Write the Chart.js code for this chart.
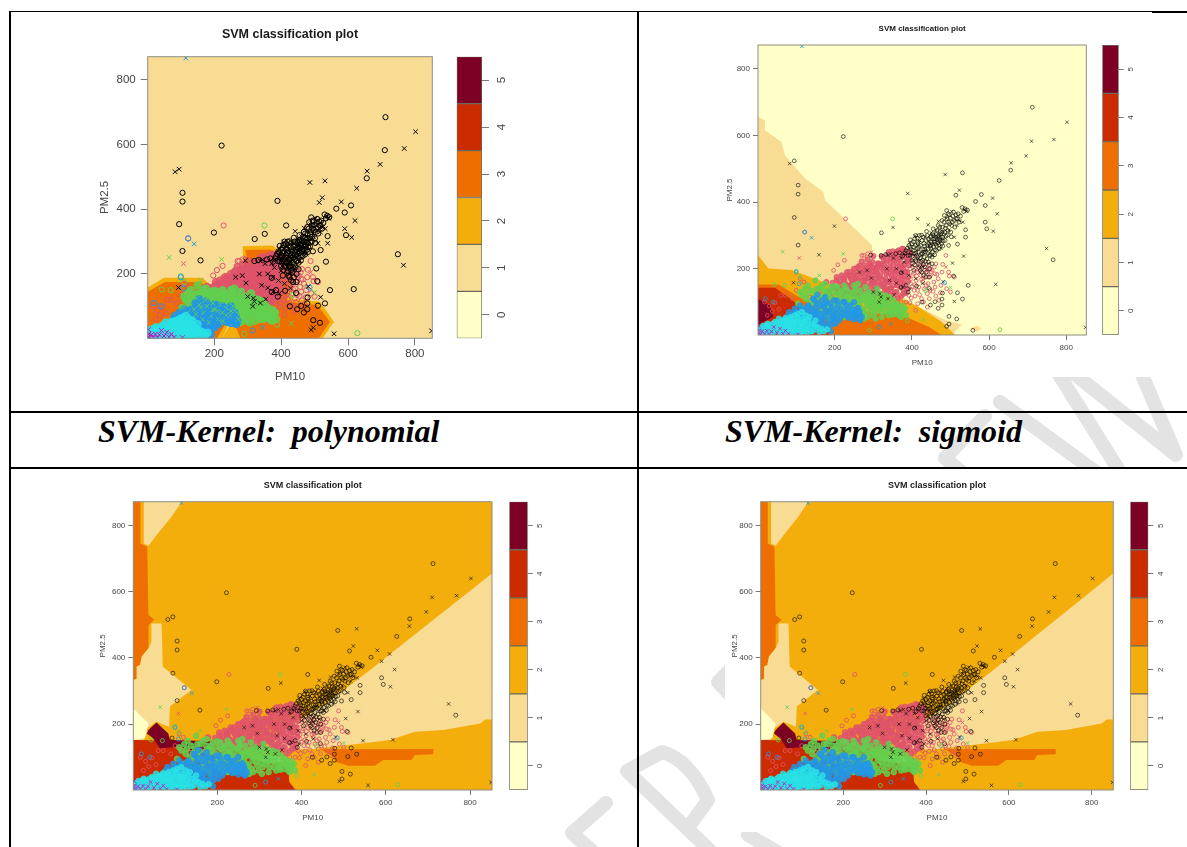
<!DOCTYPE html>
<html><head><meta charset="utf-8">
<script src="https://cdn.jsdelivr.net/npm/chart.js@4"></script>
<style>
html,body{margin:0;padding:0;background:#fff;overflow:hidden}
#page{position:relative;width:1187px;height:847px;overflow:hidden;background:#fff}
canvas{position:absolute;display:block}
.rule{position:absolute;background:#000}
.cap{position:absolute;font:italic bold 32px "Liberation Serif",serif;white-space:pre;color:#000;line-height:36px}
svg{position:absolute;left:0;top:0}
</style></head><body><div id="page">
<svg width="1187" height="847" fill="none" stroke="#e3e3e3" stroke-width="14" stroke-linejoin="round" stroke-linecap="round">
<defs>
<clipPath id="rowclip"><rect x="900" y="377" width="287" height="90"/></clipPath>
<clipPath id="lowclip"><rect x="540" y="660" width="185" height="187"/><rect x="725" y="832" width="200" height="15"/></clipPath>
</defs>
<g clip-path="url(#rowclip)">
<path d="M1000 402L1100 475"/><path d="M985 416L945 458L965 475"/>
<path d="M1056 370L1122 475M1072 372L1176 455L1140 370"/>
</g>
<g clip-path="url(#lowclip)">
<path d="M606 803L572 833L600 858"/><path d="M627 771L662 752Q690 760 708 800L690 825M627 771L720 860"/>
<path d="M730 670L718 682L730 695"/><path d="M748 835L800 865"/>
</g>
</svg>
<div class="rule" style="left:10px;top:11px;width:1142px;height:1px"></div>
<div class="rule" style="left:1152px;top:11px;width:35px;height:2px"></div>
<div class="rule" style="left:9px;top:11px;width:2px;height:836px"></div>
<div class="rule" style="left:637px;top:11px;width:2px;height:836px"></div>
<div class="rule" style="left:10px;top:411px;width:1177px;height:2px"></div>
<div class="rule" style="left:10px;top:467px;width:1177px;height:2px"></div>
<div class="cap" style="left:98px;top:413px">SVM-Kernel:  polynomial</div>
<div class="cap" style="left:725px;top:413px">SVM-Kernel:  sigmoid</div>
</div>
<script>
// ---------- labels ----------
const chartTitle = "SVM classification plot";
const xAxisName = "PM10";
const yAxisName = "PM2.5";
const axisTicks = [200, 400, 600, 800];
const levelTicks = [0, 1, 2, 3, 4, 5];
const levelColors = ["#FFFFC8", "#F9DC94", "#F4AE0C", "#EF6E00", "#CC2B00", "#7D0025"];
const xRange = [1, 852];
const yRange = [1, 872];

// ---------- decision regions: [PM10, PM2.5] ----------
const polyL3left = [[1,145],[53,175],[158,175],[193,145],[228,109],[248,78],[228,36],[208,1],[1,1]];
const polyL2left = [[1,158],[50,188],[165,188],[205,150],[240,112],[260,78],[240,36],[222,1],[1,1]];
const polyL3mid = [[293,274],[368,276],[428,222],[418,114],[508,104],[546,52],[513,1],[278,1],[258,52],[248,109],[298,248]];
const polyL2mid = [[285,286],[376,288],[440,225],[430,124],[516,114],[558,52],[524,1],[222,1],[246,40],[236,109],[286,248]];

const sigL1 = [[1,656],[19,646],[19,616],[62,581],[71,541],[123,471],[170,431],[175,406],[296,271],[300,201],[391,101],[486,46],[529,33],[505,1],[1,1]];
const sigL1blob = [[551,21],[568,29],[581,21],[568,11]];
const sigL2 = [[1,241],[28,201],[88,196],[157,166],[252,131],[373,111],[417,86],[477,41],[512,1],[1,1]];
const sigL3 = [[1,153],[54,153],[114,111],[192,81],[270,71],[373,61],[443,26],[477,1],[1,1]];
const sigL4 = [[1,143],[45,143],[84,111],[140,61],[183,21],[188,1],[1,1]];
const sigL5 = [[1,109],[32,91],[41,56],[1,31]];

const rbfL3strip = [[1,872],[18,872],[18,746],[34,736],[37,530],[51,515],[37,499],[37,429],[21,404],[17,379],[9,374],[9,338],[1,333]];
const rbfL1top = [[26,872],[116,872],[92,827],[56,771],[37,739],[26,746]];
const rbfL1left = [[1,333],[9,336],[9,374],[17,379],[21,404],[37,429],[44,449],[44,504],[68,504],[71,374],[139,303],[88,253],[86,192],[56,207],[33,187],[25,152],[1,152]];
const rbfL0left = [[1,248],[37,202],[29,157],[1,152]];
const rbfL5 = [[37,182],[56,205],[84,172],[88,152],[195,147],[195,137],[151,117],[112,132],[64,127],[48,157],[33,172]];
const rbfL4 = [[1,152],[195,150],[233,130],[298,87],[345,79],[369,64],[371,26],[386,1],[1,1]];
const rbfL1right = [[852,655],[555,356],[452,258],[365,187],[310,117],[365,122],[428,125],[547,142],[610,152],[669,177],[737,182],[824,202],[836,214],[852,214]];
const rbfL0small = [[310,107],[365,97],[357,87],[310,85]];
const rbfL3wedge = [[444,124],[713,125],[713,109],[669,107],[661,92],[594,92],[574,74],[511,74],[480,87],[476,102]];

// ---------- points: [PM10, PM2.5] ----------
const blackSparse = [[83,516],[95,524],[105,451],[105,424],[95,354],[199,328],[222,597],[389,426],[415,350],[351,324],[321,308],[159,242],[105,271],[93,158],[293,241],[486,483],[531,488],[523,436],[514,421],[580,423],[565,402],[609,412],[590,390],[621,365],[626,465],[656,496],[657,518],[696,539],[710,583],[712,685],[768,588],[802,640],[749,261],[766,227],[617,153],[611,313],[594,320],[590,340],[539,317],[539,295],[534,238],[518,274],[505,217],[508,178],[546,150],[531,109],[518,128],[510,102],[516,49],[496,57],[496,34],[490,27],[558,15],[850,24]];
const sparseMarksPoly = "xxoooooooooooxxxxxxxoooxxoxxooxxoxoxoxoxooooooxoooxxxx";
const sparseMarksSigm = "xooooxoxxxoxoxoxoxoooxoxooxxxoxxxoxxooooxoxooooxoooooxx";
const sparseMarksRbf  = "oooooooooxooooooxxoxoxxxoxoxxoxxxoxxooooxoxoxooooooxxxo";
const blackCloudRings = [[392,270],[398,258],[404,281],[410,246],[414,292],[418,265],[402,238],[421,232],[425,301],[428,258],[431,276],[396,287],[435,222],[438,312],[441,246],[443,289],[447,268],[450,298],[452,235],[455,320],[458,281],[460,257],[463,303],[466,288],[468,330],[470,272],[473,312],[476,296],[478,345],[481,283],[484,360],[487,322],[490,375],[492,301],[495,340],[497,362],[500,352],[503,330],[506,358],[510,345],[514,362],[518,350],[522,340],[526,358],[530,384],[534,372],[538,380],[544,376],[412,222],[418,204],[425,190],[430,212],[436,175],[407,212],[446,200],[424,245],[433,258],[416,275],[405,265],[399,248],[410,300],[440,270],[448,282],[456,300],[464,270],[472,290],[480,268],[488,298],[495,270],[502,296],[400,225],[390,240],[385,255],[332,243],[358,245],[320,240],[385,150],[412,148],[372,144],[372,188],[405,195],[430,180],[390,130],[445,141],[446,175],[479,127],[426,100],[448,91],[468,81],[460,101],[478,109],[478,91]];
const blackCloudRingsMore = [[395,265],[400,275],[403,255],[407,290],[409,270],[412,240],[415,280],[417,250],[419,300],[422,270],[424,222],[426,285],[427,245],[429,295],[432,235],[433,268],[435,250],[437,285],[439,230],[440,300],[442,260],[444,275],[445,240],[448,295],[449,262],[451,280],[453,250],[454,305],[456,265],[457,290],[459,242],[461,275],[462,295],[464,255],[465,315],[467,278],[469,300],[471,260],[472,325],[474,285],[475,305],[477,275],[479,325],[480,295],[483,340],[485,310],[486,285],[489,330],[491,350],[493,315],[494,365],[498,335],[501,310],[505,340],[508,370],[511,325],[515,350],[520,365],[410,225],[415,235],[420,210],[405,245],[422,195],[428,225],[434,205],[438,190],[443,220],[448,240],[452,215],[395,240],[388,262],[382,248],[376,238],[368,248],[415,260],[430,250],[448,270],[460,290],[470,285],[478,310]];
const blackCloudCrosses = [[380,244],[394,278],[403,225],[412,255],[420,285],[426,240],[434,296],[442,215],[449,252],[456,275],[462,315],[469,342],[475,262],[482,310],[489,352],[496,316],[503,372],[510,295],[517,330],[524,344],[532,340],[537,378],[542,372],[470,300],[455,240],[437,255],[417,230],[428,206],[408,298],[442,332],[450,308],[345,244],[338,240],[352,232],[372,232],[380,220],[335,200],[360,200],[375,190],[392,180],[410,170],[428,156],[342,165],[360,157],[376,145],[395,140],[354,122],[338,110],[317,125],[315,100],[320,115],[300,130],[284,195],[264,190],[295,172],[400,210],[481,161]];
const pinkCore = [[190,115],[225,112],[262,118],[300,120],[340,125],[372,118],[185,130],[205,128],[235,132],[250,126],[280,134],[310,128],[330,136],[355,130],[385,128],[200,145],[218,140],[240,148],[258,142],[272,150],[290,144],[305,138],[322,148],[345,142],[362,150],[378,138],[178,160],[195,158],[212,162],[228,154],[245,160],[262,156],[278,164],[295,158],[312,162],[328,154],[342,160],[358,166],[374,156],[390,162],[205,175],[222,172],[238,178],[254,170],[268,176],[284,172],[300,180],[316,174],[332,170],[348,178],[364,172],[380,176],[232,190],[250,186],[264,192],[280,184],[296,190],[310,186],[326,194],[340,186],[356,192],[372,184],[388,190],[260,205],[276,200],[290,208],[305,202],[320,210],[334,204],[348,198],[362,206],[378,202],[392,210],[270,222],[298,220],[312,216],[328,224],[344,218],[358,226],[372,214],[388,222],[300,238],[322,236],[338,242],[352,234],[366,240],[380,236],[394,244],[285,228],[350,252],[365,255],[378,258],[392,250],[215,150],[225,165],[235,150],[242,170],[248,155],[255,180],[258,165],[265,150],[270,185],[273,165],[280,195],[282,150],[287,178],[290,195],[295,165],[298,205],[302,148],[306,170],[308,192],[314,150],[315,215],[318,180],[322,200],[325,165],[328,215],[330,145],[334,185],[336,225],[338,160],[341,200],[344,140],[346,230],[349,170],[351,210],[353,150],[355,238],[357,185],[360,130],[361,218],[363,160],[366,195],[368,230],[370,145],[373,205],[375,170],[377,245],[380,155],[381,215],[383,190],[386,235],[388,140],[390,175],[393,225],[300,160],[310,205],[325,235],[360,250],[375,260],[340,250],[290,215],[278,210],[265,210],[250,200],[240,190],[230,180],[218,180],[205,165],[195,145],[210,135],[225,125],[245,135],[268,135],[292,130],[335,128],[348,120],[363,112],[378,125]];
const pinkLoose = [[398,112],[420,122],[415,135],[440,125],[400,146],[432,140],[455,132],[408,152],[425,168],[442,155],[396,168],[412,178],[430,172],[448,180],[404,186],[420,194],[436,188],[452,196],[465,183],[408,200],[422,208],[440,202],[458,205],[402,216],[418,224],[430,218],[445,212],[408,238],[275,240],[197,195],[208,212],[225,225],[228,350],[255,200],[270,240],[285,245],[122,310],[488,240],[480,213],[497,178],[495,190],[490,140],[500,130],[474,128],[470,105],[440,85],[410,75],[385,100],[445,200],[460,145],[510,175],[18,100],[30,88],[45,98],[55,78],[38,72],[25,60],[72,120],[90,110],[110,170],[120,160],[60,120],[100,135],[135,115],[150,110],[160,130],[395,200],[397,155],[402,180],[406,135],[409,210],[411,165],[415,190],[418,145],[423,180],[426,205],[428,160],[434,195],[437,150],[443,175],[447,135],[450,190],[457,160],[460,185],[392,120],[408,118],[425,110],[352,105],[372,100],[395,98],[415,95],[430,100],[445,110],[462,118],[475,150],[468,170],[478,190],[462,215]];
const pinkCrosses = [[108,232],[225,108],[300,150],[345,190],[330,170],[295,250],[488,205]];
const greenMarks = [[110,130],[125,110],[130,150],[140,90],[148,125],[155,105],[160,140],[168,80],[172,118],[178,100],[185,135],[190,70],[196,110],[200,90],[208,125],[212,60],[218,105],[224,80],[230,140],[235,95],[240,115],[246,70],[252,130],[256,100],[262,85],[268,120],[272,60],[278,105],[284,90],[290,130],[295,75],[300,110],[306,50],[312,95],[318,125],[324,70],[330,100],[336,85],[342,115],[350,62],[356,92],[362,78],[370,70],[375,88],[150,165],[175,155],[200,148],[225,150],[250,150],[165,60],[185,50],[225,55],[285,55],[135,65],[120,80],[105,95],[260,155],[280,145],[310,140],[215,130],[195,88],[235,72],[275,75],[255,115],[295,100],[320,88],[340,60],[145,75],[160,95],[180,125],[210,85],[230,115],[250,85],[270,105],[288,115],[305,82],[328,112],[348,78],[368,60]];
const greenMarksMore = [[115,120],[122,140],[128,125],[135,100],[138,135],[143,112],[150,95],[153,140],[158,118],[162,70],[166,150],[170,95],[174,135],[177,62],[180,110],[183,85],[187,120],[190,145],[193,78],[198,130],[202,105],[204,70],[207,145],[211,95],[214,115],[216,72],[220,135],[222,92],[226,120],[228,60],[232,105],[237,130],[238,85],[242,55],[244,100],[248,125],[250,60],[254,140],[258,75],[260,110],[264,95],[266,135],[270,80],[274,115],[276,50],[280,125],[282,65],[286,100],[292,85],[294,120],[298,60],[302,95],[304,125],[308,70],[310,110],[316,80],[320,105],[322,55],[326,90],[332,120],[334,70],[338,100],[344,90],[346,70],[352,105],[358,65],[360,95],[364,85],[372,55],[376,72],[382,80],[385,60]];
const greenSparseRings = [[350,350],[100,193],[628,17],[290,15],[388,43],[435,135],[70,150],[110,175],[43,152]];
const greenSparseCrosses = [[222,245],[65,251],[160,180],[430,47],[500,143]];
const blueMarks = [[60,40],[78,25],[92,50],[98,15],[105,70],[112,35],[124,55],[130,20],[136,80],[142,45],[148,105],[152,62],[158,28],[164,88],[170,50],[176,72],[182,35],[188,95],[194,58],[206,78],[212,45],[218,65],[230,90],[236,52],[242,72],[254,60],[260,82],[266,45],[155,122],[175,115],[205,105],[225,100],[250,100],[110,15],[140,12],[170,18],[190,12],[100,55],[120,75],[145,30],[165,65],[185,75],[205,50],[228,72],[245,55],[135,60],[155,42],[90,30],[80,50],[150,85],[195,40],[175,30],[125,40],[110,90],[265,62]];
const blueMarksMore = [[65,30],[72,45],[75,15],[82,70],[85,35],[88,62],[95,25],[96,80],[102,40],[108,60],[110,28],[114,80],[116,48],[120,18],[126,68],[128,35],[132,90],[134,52],[138,25],[140,70],[144,110],[146,55],[150,38],[154,95],[156,72],[160,18],[162,50],[166,105],[168,30],[172,85],[174,60],[178,20],[180,100],[184,48],[186,68],[190,30],[192,85],[196,52],[198,105],[202,35],[204,65],[208,92],[214,55],[216,80],[222,100],[226,60],[234,78],[240,90],[246,65],[250,48],[252,78],[258,60],[262,50],[264,72],[270,55],[158,55],[148,70],[138,40],[128,85],[118,60],[108,45],[98,70],[88,45],[78,60],[70,35],[165,40],[175,95],[195,70],[235,62],[255,75]];
const blueSparseRings = [[122,310],[485,158],[315,25],[40,100],[20,110],[100,190],[108,155]];
const blueSparseCrosses = [[140,293],[115,868],[345,35]];
const cyanMarks = [[5,8],[8,22],[12,5],[18,15],[22,30],[25,8],[32,20],[36,6],[40,35],[44,14],[52,25],[56,8],[60,42],[64,18],[68,30],[72,6],[76,48],[80,20],[84,35],[88,10],[92,28],[96,60],[100,15],[104,42],[108,22],[112,8],[118,35],[125,18],[130,45],[138,12],[148,28],[160,10],[55,50],[70,12],[85,55],[45,40],[95,40],[125,60]];
const cyanMarksMore = [[4,15],[10,10],[13,28],[16,6],[23,20],[26,35],[30,12],[37,25],[41,8],[46,30],[50,38],[54,15],[58,32],[62,6],[66,45],[70,25],[74,38],[78,10],[82,50],[86,25],[90,42],[94,15],[98,32],[102,55],[106,10],[110,38],[114,25],[116,50],[120,12],[122,42],[127,30],[132,22],[135,55],[140,35],[145,15],[150,45],[155,25],[165,20],[172,12],[180,18],[30,30],[66,15],[78,35],[92,5],[108,5],[128,8],[72,52],[105,65],[115,70]];
const magentaMarks = [[2,5],[5,15],[8,3],[12,12],[18,4],[24,14],[30,3],[36,12],[42,25],[50,8],[58,20],[65,5],[72,14],[3,28],[80,4],[105,3]];

// ---------- drawing ----------
const PINK="#DF536B",GREEN="#61D04F",BLUE="#2297E6",CYAN="#28E2E5",MAGENTA="#CD0BBC";
const toXY = a => a.map(p => ({x:p[0], y:p[1]}));
const page = document.getElementById("page");
const frame = {id:"frame", afterDraw(c){const a=c.chartArea,g=c.ctx;g.save();g.strokeStyle="#8d8d80";g.lineWidth=1;g.strokeRect(a.left,a.top,a.right-a.left,a.bottom-a.top);g.restore();}};
const noPad = s => {s.paddingLeft=0;s.paddingRight=0;s.paddingTop=0;s.paddingBottom=0;};

function region(points, level){
  return {data:toXY(points), showLine:true, fill:"shape", borderWidth:0, pointRadius:0, backgroundColor:levelColors[level], borderColor:levelColors[level]};
}
const fullPlot = [[xRange[0],yRange[0]],[xRange[1],yRange[0]],[xRange[1],yRange[1]],[xRange[0],yRange[1]]];

function marks(points, color, style, r, lw){
  return {data:toXY(points), showLine:false, pointStyle:style, pointRadius:style==="crossRot"?r*1.25:r, pointBorderWidth:lw, pointBorderColor:color, borderColor:color, pointBackgroundColor:"transparent", backgroundColor:"transparent"};
}
function sparseMarks(r,lw,string,color){
  return {data:toXY(blackSparse), showLine:false, pointRadius:(c)=>string[c.dataIndex]==="x"?r*1.25:r, pointStyle:(c)=>string[c.dataIndex]==="x"?"crossRot":"circle", pointBorderWidth:lw, pointBorderColor:color, pointBackgroundColor:"transparent"};
}

function buildPanel(p){
  const L=Math.round(p.ylabX-p.tick/2), T=Math.round(p.titleY-p.titleSize/2), R=Math.ceil(p.r)+2, B=Math.round(p.xlabY+p.tick/2);
  const c=document.createElement("canvas");
  c.width=R-L;c.height=B-T;c.style.cssText=`left:${L}px;top:${T}px;width:${R-L}px;height:${B-T}px;filter:blur(${p.blur}px)`;
  page.appendChild(c);
  const r=p.r0, lw=p.lw, alt=p.alt, ink=p.ink;
  const ds=[];
  p.regions.forEach(q=>ds.push(region(q[0],q[1])));
  const cloud=(arr,col)=>{const d=marks(arr,col,"circle",r*1.4,lw); d.pointBackgroundColor=col+"d0"; return d;};
  ds.push(cloud(pinkCore,PINK),marks(pinkLoose,PINK,"circle",r,lw),marks(pinkCrosses,PINK,"crossRot",r,lw));
  ds.push(cloud(greenMarks.concat(greenMarksMore),GREEN),marks(greenSparseRings,GREEN,"circle",r,lw),marks(greenSparseCrosses,GREEN,"crossRot",r,lw));
  ds.push(cloud(blueMarks.concat(blueMarksMore),BLUE),marks(blueSparseRings,BLUE,"circle",r,lw),marks(blueSparseCrosses,BLUE,"crossRot",r,lw));
  if(alt){ds.push(marks(greenMarks,GREEN,"crossRot",r,lw),marks(blueMarks,BLUE,"crossRot",r,lw));}
  ds.push(cloud(cyanMarks.concat(cyanMarksMore),CYAN),marks(magentaMarks,MAGENTA,"crossRot",r,lw));
  ds.push(marks(blackCloudRings.concat(blackCloudRingsMore),ink,"circle",r,lw),marks(blackCloudCrosses,ink,"crossRot",r,lw),sparseMarks(r,lw,p.sparse,ink));
  ds.forEach((d,i)=>{d.order=ds.length-i;});
  const setTicks=(s)=>{s.ticks=axisTicks.map(v=>({value:v}));};
  const tickFont={family:"Liberation Sans",size:p.tick};
  new Chart(c,{type:"scatter",data:{datasets:ds},plugins:[frame],options:{
    responsive:false,animation:false,events:[],devicePixelRatio:1,
    layout:{autoPadding:false,padding:{left:0,right:R-p.r,top:0,bottom:0}},
    plugins:{legend:{display:false},tooltip:{enabled:false},
      title:{display:true,fullSize:false,text:chartTitle,color:"#1a1a1a",font:{family:"Liberation Sans",size:p.titleSize,weight:"bold",lineHeight:1},padding:{top:0,bottom:p.t-T-p.titleSize}}},
    scales:{
      x:{type:"linear",min:xRange[0],max:xRange[1],afterBuildTicks:setTicks,
        afterFit(s){s.height=B-p.b;noPad(s);},
        grid:{drawOnChartArea:false,drawTicks:true,tickLength:p.tl,color:"#777"},border:{display:false},
        ticks:{autoSkip:false,maxRotation:0,font:tickFont,color:"#444",padding:p.xpad},
        title:{display:true,text:xAxisName,color:"#444",font:{family:"Liberation Sans",size:p.tick,lineHeight:1},padding:0}},
      y:{type:"linear",min:yRange[0],max:yRange[1],afterBuildTicks:setTicks,
        afterFit(s){s.width=p.l-L;noPad(s);},
        grid:{drawOnChartArea:false,drawTicks:true,tickLength:p.tl,color:"#777"},border:{display:false},
        ticks:{autoSkip:false,font:tickFont,color:"#444",padding:p.ypad},
        title:{display:true,text:yAxisName,color:"#444",font:{family:"Liberation Sans",size:p.tick,lineHeight:1},padding:0}}
    }}});
  // colour bar
  const bL=Math.floor(p.barL), bT=Math.floor(p.t)-1, bR=Math.round(p.barLabX+10), bH=Math.ceil(p.b-p.t)+3;
  const k=document.createElement("canvas");
  k.width=bR-bL;k.height=bH;k.style.cssText=`left:${bL}px;top:${bT}px;width:${bR-bL}px;height:${bH}px;filter:blur(${p.blur}px)`;
  page.appendChild(k);
  const bars=levelTicks.map(v=>({label:String(v),data:[[v-0.5,v+0.5]],backgroundColor:levelColors[v],borderColor:"#6b6b5c",borderWidth:1,borderSkipped:false,barPercentage:1,categoryPercentage:1,grouped:false}));
  new Chart(k,{type:"bar",data:{labels:[""],datasets:bars},options:{
    responsive:false,animation:false,events:[],devicePixelRatio:1,
    layout:{autoPadding:false,padding:{left:p.barL-bL,right:0,top:p.t-bT,bottom:bT+bH-p.b}},
    plugins:{legend:{display:false},tooltip:{enabled:false},title:{display:false}},
    scales:{
      x:{display:false,grid:{display:false},offset:true},
      y:{position:"right",min:-0.5,max:5.5,
        afterBuildTicks(s){s.ticks=levelTicks.map(v=>({value:v}));},
        afterFit(s){s.width=bR-p.barR;noPad(s);},
        grid:{drawOnChartArea:false,drawTicks:true,tickLength:p.tl,color:"#777"},border:{display:false},
        ticks:{autoSkip:false,minRotation:90,maxRotation:90,crossAlign:"center",font:tickFont,color:"#444",padding:p.barPad}}
    }}});
}

const polyRegions=[[fullPlot,1],[polyL2left,2],[polyL2mid,2],[polyL3left,3],[polyL3mid,3]];
const sigmRegions=[[fullPlot,0],[sigL1,1],[sigL1blob,1],[sigL2,2],[sigL3,3],[sigL4,4],[sigL5,5]];
const rbfRegions=[[fullPlot,2],[rbfL3strip,3],[rbfL1top,1],[rbfL1left,1],[rbfL0left,0],[rbfL1right,1],[rbfL3wedge,3],[rbfL4,4],[rbfL5,5],[rbfL0small,0]];

buildPanel({l:147.7,r:432.3,t:56.7,b:338.3,barL:456.7,barR:482,barLabX:501,titleY:34,titleSize:12.5,xlabY:377,ylabX:105,tick:11.5,tl:7,xpad:2,ypad:5,barPad:10,r0:2.6,lw:1,alt:true,blur:0.4,ink:"#000000",regions:polyRegions,sparse:sparseMarksPoly});
buildPanel({l:758,r:1086.3,t:45,b:335,barL:1102.3,barR:1118.7,barLabX:1131,titleY:29,titleSize:8,xlabY:363,ylabX:730,tick:8,tl:5,xpad:3,ypad:3,barPad:5,r0:1.9,lw:0.85,alt:false,blur:0.5,ink:"#000000b8",regions:sigmRegions,sparse:sparseMarksSigm});
buildPanel({l:133.3,r:492,t:501.7,b:790,barL:509.3,barR:527.7,barLabX:538,titleY:485.7,titleSize:9,xlabY:818,ylabX:103,tick:8,tl:5,xpad:3,ypad:3,barPad:5,r0:2,lw:0.85,alt:false,blur:0.5,ink:"#000000b8",regions:rbfRegions,sparse:sparseMarksRbf});
buildPanel({l:760.7,r:1113.3,t:501.7,b:790,barL:1130.3,barR:1148.3,barLabX:1162,titleY:485.7,titleSize:9,xlabY:818,ylabX:735,tick:8,tl:5,xpad:3,ypad:3,barPad:5,r0:2,lw:0.85,alt:false,blur:0.5,ink:"#000000b8",regions:rbfRegions,sparse:sparseMarksRbf});
</script>
</body></html>
